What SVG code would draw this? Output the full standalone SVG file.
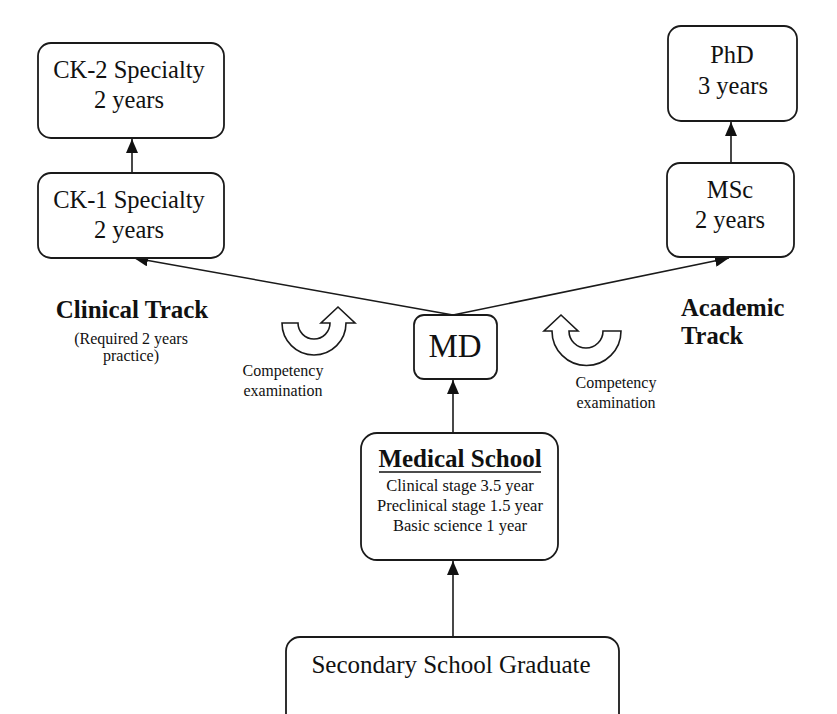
<svg xmlns="http://www.w3.org/2000/svg" width="837" height="714" viewBox="0 0 837 714">
<style>
.box{fill:#fff;stroke:#1a1a1a;stroke-width:1.8}
.t{font-family:"Liberation Serif","Times New Roman",serif;fill:#111;text-anchor:middle}
.big{font-size:24.5px}
.b{font-weight:bold}
.ex{font-size:16px}
.line{stroke:#1a1a1a;stroke-width:1.6;fill:none}
.curl{fill:#fff;stroke:#1a1a1a;stroke-width:1.6;stroke-linejoin:miter}
</style>
<defs>
<marker id="ah" viewBox="0 0 14 12" refX="14" refY="6" markerWidth="14" markerHeight="12" markerUnits="userSpaceOnUse" orient="auto">
<path d="M0,0 L14,6 L0,12 z" fill="#111"/>
</marker>
</defs>
<rect width="837" height="714" fill="#fff"/>
<g id="connectors">
<line class="line" x1="132" y1="173" x2="132" y2="139" marker-end="url(#ah)"/>
<line class="line" x1="731" y1="163" x2="731" y2="122" marker-end="url(#ah)"/>
<line class="line" x1="453" y1="315" x2="134" y2="258" marker-end="url(#ah)"/>
<line class="line" x1="453" y1="315" x2="729" y2="258" marker-end="url(#ah)"/>
<line class="line" x1="453" y1="433" x2="453" y2="380" marker-end="url(#ah)"/>
<line class="line" x1="453" y1="637" x2="453" y2="561" marker-end="url(#ah)"/>
</g>
<g id="ck2">
<rect class="box" x="38" y="43" width="186" height="95" rx="13"/>
<text class="t big" x="129" y="78">CK-2 Specialty</text>
<text class="t big" x="129" y="108">2 years</text>
</g>
<g id="ck1">
<rect class="box" x="38" y="173" width="186" height="85" rx="13"/>
<text class="t big" x="129" y="208">CK-1 Specialty</text>
<text class="t big" x="129" y="238">2 years</text>
</g>
<g id="phd">
<rect class="box" x="668" y="26" width="129" height="95" rx="13"/>
<text class="t big" x="732" y="63">PhD</text>
<text class="t big" x="733" y="94">3 years</text>
</g>
<g id="msc">
<rect class="box" x="667" y="163" width="127" height="94" rx="13"/>
<text class="t big" x="730" y="198">MSc</text>
<text class="t big" x="730" y="228">2 years</text>
</g>
<g id="md">
<rect class="box" x="414" y="315" width="83" height="64" rx="10"/>
<text class="t" x="455" y="357" font-size="33">MD</text>
</g>
<g id="medschool">
<rect class="box" x="361" y="433" width="197" height="127" rx="16"/>
<text class="t b" x="460" y="467" font-size="25">Medical School</text>
<line x1="379" y1="472" x2="541" y2="472" stroke="#111" stroke-width="1.6"/>
<text class="t" x="460" y="491" font-size="16.5">Clinical stage 3.5 year</text>
<text class="t" x="460" y="511" font-size="16.5">Preclinical stage 1.5 year</text>
<text class="t" x="460" y="531" font-size="16.5">Basic science 1 year</text>
</g>
<g id="secondary">
<rect class="box" x="286" y="637" width="333" height="100" rx="14"/>
<text class="t" x="451" y="673" font-size="25">Secondary School Graduate</text>
</g>
<g id="clinical-track">
<text class="t b" x="132" y="318" font-size="25">Clinical Track</text>
<text class="t" x="131" y="344" font-size="16">(Required 2 years</text>
<text class="t" x="131" y="361" font-size="16">practice)</text>
</g>
<g id="academic-track">
<text class="t b" x="681" y="316" font-size="24.5" style="text-anchor:start">Academic</text>
<text class="t b" x="681" y="344" font-size="24.5" style="text-anchor:start">Track</text>
</g>
<g id="exam-left">
<path class="curl" d="M282,323 A32,32 0 0 0 346,323 L355,323 L338,307 L321,323 L330,323 A16,16 0 0 1 298,323 Z"/>
<text class="t ex" x="283" y="376">Competency</text>
<text class="t ex" x="283" y="396">examination</text>
</g>
<g id="exam-right">
<path class="curl" d="M621,331 A34,34 0 0 1 552,331 L544,331 L561,315 L578,331 L569,331 A17,17 0 0 0 603,331 Z"/>
<text class="t ex" x="616" y="388">Competency</text>
<text class="t ex" x="616" y="408">examination</text>
</g>
</svg>
